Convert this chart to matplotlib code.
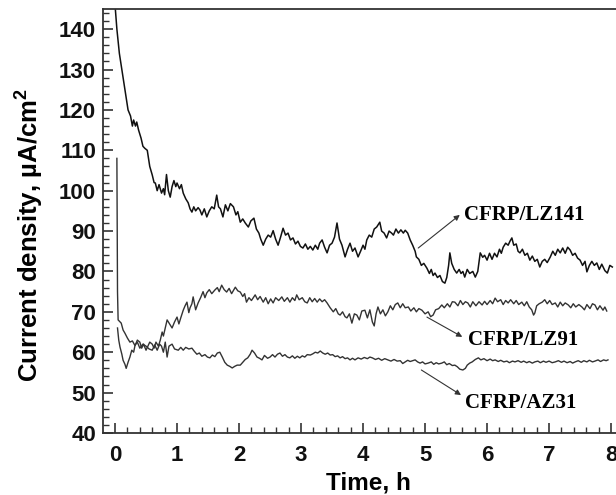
import matplotlib
matplotlib.use("Agg")
import matplotlib.pyplot as plt
from matplotlib.ticker import MultipleLocator

plt.rcParams['mathtext.fontset'] = 'custom'
plt.rcParams['mathtext.rm'] = 'Liberation Sans:bold'
plt.rcParams['mathtext.it'] = 'Liberation Sans:bold'
plt.rcParams['mathtext.bf'] = 'Liberation Sans:bold'

# ---- data ----
t_lz141 = [0.0, 0.03, 0.07, 0.11, 0.16, 0.21, 0.25, 0.28, 0.30, 0.33, 0.35, 0.38, 0.42, 0.45, 0.48,
           0.52, 0.56, 0.60, 0.63, 0.65, 0.68, 0.71, 0.75, 0.78, 0.80, 0.83, 0.86, 0.89, 0.92,
           0.95, 0.98, 1.00, 1.04, 1.07, 1.10, 1.14, 1.18, 1.21, 1.24, 1.27, 1.30, 1.34, 1.37,
           1.40, 1.44, 1.48, 1.52, 1.56, 1.60, 1.64, 1.67, 1.70, 1.74, 1.78, 1.82, 1.86, 1.91,
           1.95, 1.98, 2.02, 2.06, 2.10, 2.15, 2.19, 2.24, 2.28, 2.32, 2.35, 2.39, 2.43, 2.47,
           2.51, 2.55, 2.59, 2.63, 2.67, 2.71, 2.75, 2.79, 2.83, 2.87, 2.91, 2.95, 2.99, 3.03,
           3.07, 3.11, 3.15, 3.19, 3.23, 3.27, 3.30, 3.34, 3.38, 3.42, 3.46, 3.50, 3.54, 3.58,
           3.62, 3.66, 3.71, 3.75, 3.79, 3.83, 3.87, 3.92, 3.96, 4.00, 4.03, 4.06, 4.10, 4.14,
           4.18, 4.22, 4.27, 4.30, 4.34, 4.38, 4.42, 4.46, 4.49, 4.53, 4.57, 4.61, 4.65, 4.68,
           4.72, 4.76, 4.80, 4.84, 4.86, 4.90, 4.94, 4.98, 5.03, 5.07, 5.10, 5.13, 5.16, 5.20,
           5.24, 5.28, 5.32, 5.35, 5.38, 5.40, 5.43, 5.47, 5.51, 5.55, 5.58, 5.61, 5.64, 5.68,
           5.72, 5.77, 5.81, 5.85, 5.89, 5.93, 5.96, 6.00, 6.04, 6.08, 6.12, 6.16, 6.20, 6.23,
           6.26, 6.30, 6.34, 6.37, 6.40, 6.43, 6.47, 6.50, 6.53, 6.57, 6.61, 6.65, 6.69, 6.73,
           6.77, 6.81, 6.85, 6.89, 6.93, 6.97, 7.02, 7.06, 7.10, 7.14, 7.18, 7.22, 7.26, 7.30,
           7.34, 7.38, 7.42, 7.46, 7.50, 7.54, 7.58, 7.61, 7.65, 7.69, 7.73, 7.77, 7.81, 7.85,
           7.90, 7.94, 7.98, 8.02]
y_lz141 = [146.0, 140.0, 134.0, 130.0, 125.0, 120.0, 118.5, 116.0, 117.5, 116.0, 117.0, 115.0, 113.0, 111.0, 110.5,
           110.0, 106.0, 103.9, 102.0, 101.9, 100.0, 101.5, 99.4, 100.5, 99.0, 104.0, 100.0, 98.4, 101.0,
           102.5, 101.0, 101.9, 100.5, 101.5, 99.4, 98.0, 97.0, 95.5, 94.7, 96.0, 95.0, 95.8, 95.2,
           94.0, 95.5, 93.5, 95.0, 96.0, 95.5, 98.9, 96.0, 95.5, 93.5, 96.5, 95.0, 96.8, 96.0,
           94.0, 94.8, 92.2, 93.0, 92.0, 91.0, 92.5, 93.2, 90.5, 89.5, 88.0, 86.5, 88.0, 89.0,
           88.5, 90.1, 88.0, 86.5, 88.5, 90.7, 89.0, 89.5, 87.8, 88.3, 86.8, 87.5, 86.2, 85.8,
           86.8, 85.5, 86.2, 85.3, 86.5, 85.5, 87.0, 87.8, 86.0, 84.6, 86.5, 87.0, 88.5, 92.0,
           88.0, 86.5, 83.6, 85.5, 87.0, 85.0, 85.8, 83.6, 85.0, 86.5, 85.5, 87.8, 89.0, 88.5,
           90.5, 91.0, 92.2, 90.0, 89.5, 88.3, 90.0, 89.5, 89.0, 90.5, 89.5, 90.3, 89.5, 90.2,
           89.5, 87.8, 86.5, 85.0, 83.6, 83.0, 81.5, 82.0, 80.8, 79.5, 80.5, 79.0, 79.6, 78.5,
           79.0, 77.5, 77.1, 78.5, 81.5, 84.6, 82.0, 80.5, 79.6, 80.5, 79.5, 80.0, 78.6, 80.5,
           79.5, 80.0, 78.6, 80.0, 84.6, 83.5, 84.0, 82.8, 84.5, 83.0, 84.5, 83.6, 85.5, 84.5,
           86.0, 87.0, 86.5, 87.5, 88.3, 86.5, 86.8, 85.0, 84.6, 85.5, 84.0, 84.5, 82.8, 83.8,
           82.5, 83.0, 81.1, 82.5, 83.0, 82.2, 83.6, 85.0, 84.0, 85.5, 84.6, 85.8, 84.5, 86.0,
           85.3, 84.0, 84.5, 83.3, 82.8, 81.5, 82.5, 79.9, 81.5, 82.5, 81.5, 82.1, 80.5, 81.8,
           80.2, 79.6, 81.5, 81.1]

t_lz91 = [0.04, 0.06, 0.08, 0.11, 0.13, 0.16, 0.18, 0.21, 0.24, 0.27, 0.30, 0.32, 0.36, 0.40,
          0.43, 0.46, 0.50, 0.53, 0.56, 0.60, 0.63, 0.66, 0.70, 0.73, 0.76, 0.78, 0.81, 0.84,
          0.88, 0.92, 0.96, 1.00, 1.03, 1.06, 1.10, 1.13, 1.16, 1.19, 1.21, 1.24, 1.26, 1.30,
          1.34, 1.38, 1.42, 1.45, 1.48, 1.52, 1.56, 1.61, 1.65, 1.68, 1.72, 1.76, 1.80, 1.84,
          1.88, 1.94, 1.98, 2.02, 2.06, 2.09, 2.12, 2.16, 2.20, 2.26, 2.30, 2.34, 2.39, 2.43,
          2.47, 2.51, 2.55, 2.59, 2.64, 2.69, 2.73, 2.78, 2.82, 2.86, 2.90, 2.93, 2.97, 3.02,
          3.06, 3.10, 3.14, 3.18, 3.22, 3.26, 3.30, 3.34, 3.38, 3.42, 3.47, 3.52, 3.56, 3.60,
          3.63, 3.67, 3.71, 3.74, 3.78, 3.82, 3.86, 3.90, 3.94, 3.98, 4.03, 4.07, 4.11, 4.15,
          4.18, 4.21, 4.24, 4.28, 4.32, 4.36, 4.40, 4.44, 4.48, 4.52, 4.56, 4.60, 4.64, 4.68,
          4.73, 4.77, 4.82, 4.86, 4.90, 4.95, 5.00, 5.05, 5.09, 5.13, 5.17, 5.22, 5.27, 5.31,
          5.36, 5.40, 5.44, 5.48, 5.53, 5.57, 5.61, 5.65, 5.69, 5.73, 5.77, 5.82, 5.87, 5.92,
          5.96, 6.00, 6.05, 6.09, 6.13, 6.17, 6.22, 6.26, 6.30, 6.34, 6.38, 6.43, 6.47, 6.51,
          6.56, 6.60, 6.64, 6.68, 6.72, 6.75, 6.77, 6.80, 6.84, 6.89, 6.93, 6.97, 7.01, 7.05,
          7.10, 7.14, 7.18, 7.22, 7.26, 7.31, 7.35, 7.39, 7.43, 7.48, 7.53, 7.57, 7.61, 7.66,
          7.70, 7.74, 7.78, 7.82, 7.87, 7.90, 7.93]
y_lz91 = [66.0, 63.0, 61.3, 59.5, 58.0, 57.0, 56.0, 57.5, 58.8, 60.5, 60.0, 61.5, 63.0, 62.5,
          61.0, 62.0, 60.5, 61.5, 62.5, 62.0, 61.0, 62.5, 61.5, 63.0, 65.0, 64.0, 66.0, 68.0,
          67.0, 66.0, 67.5, 68.7, 67.0, 68.5, 70.4, 71.5, 72.4, 69.8, 71.0, 72.0, 73.7, 70.5,
          72.2, 73.5, 75.0, 73.5, 74.7, 75.5, 74.5, 75.4, 76.0, 75.0, 76.6, 75.5, 74.9, 75.8,
          74.5, 76.1, 75.2, 74.9, 73.8, 74.5, 72.4, 73.5, 72.8, 74.2, 73.0, 73.8, 72.4, 73.5,
          72.0, 73.2, 72.2, 73.5, 72.8, 73.7, 72.6, 73.5, 72.4, 73.5, 72.8, 74.2, 73.0, 73.5,
          72.5, 72.2, 73.5, 72.5, 73.3, 72.4, 73.2, 72.5, 73.0, 72.2, 71.0, 70.0, 70.8, 69.5,
          69.2, 70.0, 68.8, 68.5, 69.5, 67.2, 69.5, 69.2, 68.0, 70.2, 70.4, 68.5, 70.5, 67.5,
          66.5, 69.5, 71.2, 69.5, 70.5, 69.0, 70.0, 71.5, 70.5, 71.8, 72.2, 71.0, 72.0, 71.0,
          71.2, 70.2, 71.0, 70.0, 70.8, 70.4, 69.5, 70.0, 68.8, 69.2, 70.5, 70.8, 71.7, 71.0,
          72.0, 71.2, 72.5, 72.4, 71.5, 72.8, 71.8, 72.5, 72.2, 71.2, 72.5, 71.5, 72.5, 71.7,
          72.6, 71.8, 72.8, 72.0, 73.4, 72.5, 73.0, 71.8, 72.8, 72.2, 73.0, 72.0, 72.8, 71.8,
          72.4, 71.5, 72.5, 71.2, 70.5, 69.2, 69.7, 71.5, 72.0, 72.4, 73.0, 72.0, 72.8, 71.8,
          72.2, 71.2, 72.4, 71.5, 72.2, 71.7, 71.0, 72.0, 71.2, 71.8, 71.2, 70.5, 71.8, 70.8,
          72.0, 71.7, 70.5, 71.5, 70.4, 71.2, 70.2]

t_az31 = [0.03, 0.04, 0.05, 0.08, 0.10, 0.13, 0.16, 0.20, 0.24, 0.28, 0.32, 0.36, 0.40, 0.45,
          0.50, 0.55, 0.60, 0.64, 0.68, 0.72, 0.75, 0.78, 0.81, 0.84, 0.87, 0.92, 0.96, 1.02,
          1.06, 1.10, 1.14, 1.19, 1.24, 1.28, 1.32, 1.36, 1.40, 1.45, 1.49, 1.53, 1.57, 1.61,
          1.65, 1.69, 1.73, 1.77, 1.81, 1.85, 1.89, 1.93, 1.97, 2.02, 2.06, 2.10, 2.14, 2.18,
          2.21, 2.25, 2.29, 2.33, 2.37, 2.41, 2.46, 2.50, 2.54, 2.58, 2.62, 2.66, 2.70, 2.74,
          2.78, 2.82, 2.86, 2.90, 2.94, 2.98, 3.02, 3.06, 3.10, 3.15, 3.19, 3.23, 3.27, 3.31,
          3.35, 3.39, 3.43, 3.47, 3.51, 3.55, 3.59, 3.63, 3.67, 3.71, 3.75, 3.79, 3.83, 3.87,
          3.92, 3.97, 4.02, 4.07, 4.11, 4.15, 4.20, 4.25, 4.30, 4.35, 4.40, 4.45, 4.50, 4.55,
          4.60, 4.64, 4.68, 4.72, 4.76, 4.80, 4.84, 4.88, 4.92, 4.96, 5.00, 5.05, 5.10, 5.14,
          5.18, 5.22, 5.27, 5.31, 5.35, 5.39, 5.44, 5.48, 5.52, 5.56, 5.61, 5.65, 5.68, 5.72,
          5.76, 5.81, 5.86, 5.90, 5.95, 6.00, 6.05, 6.09, 6.13, 6.18, 6.22, 6.27, 6.32, 6.36,
          6.41, 6.45, 6.50, 6.55, 6.59, 6.64, 6.68, 6.73, 6.77, 6.82, 6.86, 6.91, 6.95, 7.00,
          7.05, 7.10, 7.15, 7.20, 7.24, 7.29, 7.34, 7.38, 7.42, 7.47, 7.52, 7.56, 7.61, 7.65,
          7.70, 7.74, 7.79, 7.83, 7.88, 7.92, 7.95]
y_az31 = [108.0, 75.0, 68.0, 67.5, 67.2, 65.5, 64.7, 63.5, 62.5, 62.8, 61.7, 62.5, 61.0, 62.0,
          61.5, 60.8, 60.5, 61.8, 60.5, 62.0, 61.5, 60.0, 62.5, 58.8, 61.5, 62.0, 60.8, 60.5,
          61.2, 60.5, 61.2, 60.8, 61.0, 60.2, 59.5, 59.8, 59.0, 59.4, 58.8, 58.6, 59.3, 58.9,
          59.8, 60.0, 58.8, 57.5, 56.8, 56.5, 56.1, 56.5, 56.8, 56.8, 57.5, 58.2, 58.6, 59.5,
          60.5, 59.8, 58.8, 58.5, 58.1, 59.2, 58.5, 58.8, 59.4, 58.8, 59.5, 59.8, 59.0, 59.4,
          58.8, 58.6, 59.1, 58.5, 59.0, 58.6, 59.1, 58.8, 59.4, 59.3, 59.6, 60.0, 59.8, 60.3,
          59.8, 59.5, 59.8, 59.3, 59.4, 58.9, 59.1, 58.6, 58.9, 58.4, 58.6, 58.1, 58.5, 58.1,
          58.6, 58.3, 58.7, 58.4, 58.8, 58.6, 58.2, 58.5, 58.0, 58.4, 58.1, 57.8, 58.2, 57.8,
          57.9, 57.2, 57.6, 58.0, 57.7, 57.9, 58.1, 57.6, 57.3, 57.6, 57.1, 57.3, 57.6, 57.0,
          57.4, 57.1, 57.3, 57.6, 56.9, 57.2, 56.7, 56.8, 56.4, 55.8, 55.6, 56.0, 56.8, 57.3,
          57.6, 58.2, 58.6, 58.1, 58.4, 57.9, 58.3, 57.9, 58.1, 57.7, 58.0, 57.6, 57.8, 57.4,
          57.8, 57.6, 57.9, 57.5, 57.8, 57.4, 57.7, 57.3, 57.6, 57.8, 57.4, 57.8, 57.5, 57.8,
          57.4, 57.6, 57.9, 57.5, 57.8, 57.4, 57.7, 57.3, 57.6, 57.9, 57.5, 57.9, 57.6, 58.0,
          57.6, 57.8, 58.1, 57.7, 58.1, 57.9, 58.1]

labels = ["CFRP/LZ141", "CFRP/LZ91", "CFRP/AZ31"]

fig = plt.figure(figsize=(6.16, 4.95), dpi=100)
ax = fig.add_axes([0.1672, 0.1253, 0.854, 0.8566])

ax.plot(t_lz141, y_lz141, color='#111111', lw=1.1)
ax.plot(t_lz91, y_lz91, color='#333333', lw=1.0)
ax.plot(t_az31, y_az31, color='#333333', lw=1.0)

ax.set_xlim(-0.194, 8.29)
ax.set_ylim(40, 145)

ax.xaxis.set_major_locator(MultipleLocator(1))
ax.xaxis.set_minor_locator(MultipleLocator(0.2))
ax.yaxis.set_major_locator(MultipleLocator(10))
ax.yaxis.set_minor_locator(MultipleLocator(2))
ax.tick_params(which='both', direction='in', top=False, right=False, color='#333333')
ax.tick_params(which='major', length=7, width=1.2)
ax.tick_params(which='minor', length=4, width=1.0)
ax.tick_params(axis='x', which='major', pad=9)
ax.tick_params(axis='y', which='major', pad=5)

for lab in ax.get_xticklabels() + ax.get_yticklabels():
    lab.set_fontfamily('Liberation Sans')
    lab.set_fontweight('bold')
    lab.set_fontsize(16)
    lab.set_color('#111111')

for sp in ['left', 'bottom', 'top']:
    ax.spines[sp].set_linewidth(1.3)
    ax.spines[sp].set_color('#333333')
ax.spines['right'].set_visible(False)

ax.set_xlabel('Time, h', fontfamily='Liberation Sans', fontweight='bold', fontsize=17.5)
ax.set_ylabel('Current density, µA/cm$^2$', fontfamily='Liberation Sans', fontweight='bold',
              fontsize=18.5)
ax.xaxis.set_label_coords(0.504, -0.092)
ax.yaxis.set_label_coords(-0.108, 0.467)

ann = dict(fontfamily='Liberation Serif', fontweight='bold', fontsize=15, va='center', ha='left')
arrow = dict(arrowstyle='-|>', color='#333333', lw=0.8, mutation_scale=8, shrinkA=0, shrinkB=0)
ax.annotate('', xy=(5.56, 94.0), xytext=(4.89, 85.8), arrowprops=arrow)
ax.text(5.63, 94.0, labels[0], **ann)
ax.annotate('', xy=(5.60, 63.8), xytext=(5.03, 68.7), arrowprops=arrow)
ax.text(5.69, 63.0, labels[1], **ann)
ax.annotate('', xy=(5.58, 49.4), xytext=(4.94, 55.6), arrowprops=arrow)
ax.text(5.65, 47.4, labels[2], **ann)

fig.savefig('out.png', dpi=100)
